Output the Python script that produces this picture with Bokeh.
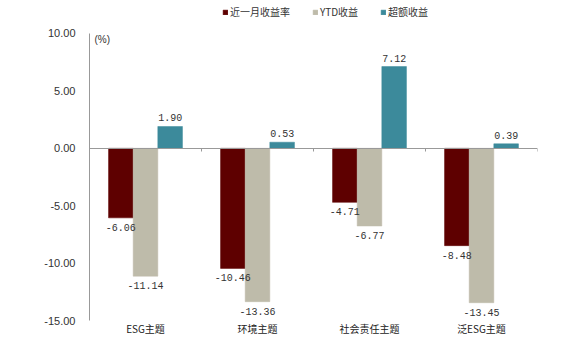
from bokeh.plotting import figure
from bokeh.models import (ColumnDataSource, Range1d, LinearAxis, FixedTicker, Legend, LegendItem,
                          NumeralTickFormatter, Label)
from bokeh.core.properties import value
from bokeh.embed import file_html
from bokeh.resources import INLINE

categories = ["ESG主题", "环境主题", "社会责任主题", "泛ESG主题"]
series_names = ["近一月收益率", "YTD收益", "超额收益"]
month_ret = [-6.06, -10.46, -4.71, -8.48]
ytd_ret = [-11.14, -13.36, -6.77, -13.45]
excess_ret = [1.90, 0.53, 7.12, 0.39]
colors = ["#5E0000", "#BEBBAA", "#3C8A9B"]
y_ticks = [10, 5, 0, -5, -10, -15]

p = figure(width=578, height=351, output_backend="svg", toolbar_location=None,
           x_range=Range1d(0, 4), y_range=Range1d(-15, 12.7),
           min_border_left=89, min_border_right=41, min_border_top=2, min_border_bottom=31,
           x_axis_type=None)
p.outline_line_color = None
p.xgrid.grid_line_color = None
p.ygrid.grid_line_color = None
p.background_fill_color = "white"
p.border_fill_color = "white"

bar_w = 0.22
offsets = [-bar_w, 0.0, bar_w]
all_vals = [month_ret, ytd_ret, excess_ret]
legend_items = []
label_sources = []
for k, (vals, col, name) in enumerate(zip(all_vals, colors, series_names)):
    xs = [i + 0.5 + offsets[k] for i in range(len(categories))]
    src = ColumnDataSource(dict(x=xs, top=vals, bottom=[0] * len(vals)))
    r = p.vbar(x="x", top="top", bottom="bottom", width=bar_w, fill_color=col,
               line_color=col, line_width=0.5, source=src)
    legend_items.append(LegendItem(label=name, renderers=[r]))
    label_sources.append((xs, vals))

for xs, vals in label_sources:
    neg = ColumnDataSource(dict(x=[x for x, v in zip(xs, vals) if v < 0],
                                y=[v for v in vals if v < 0],
                                t=["%.2f" % v for v in vals if v < 0]))
    pos = ColumnDataSource(dict(x=[x for x, v in zip(xs, vals) if v >= 0],
                                y=[v for v in vals if v >= 0],
                                t=["%.2f" % v for v in vals if v >= 0]))
    p.text(x="x", y="y", text="t", source=neg, text_align="center", text_baseline="top",
           y_offset=6, text_font=value("Liberation Mono"), text_font_size="10px",
           text_color="#333333")
    p.text(x="x", y="y", text="t", source=pos, text_align="center", text_baseline="bottom",
           y_offset=-5, text_font=value("Liberation Mono"), text_font_size="10px",
           text_color="#333333")

# y axis
p.yaxis.ticker = FixedTicker(ticks=y_ticks)
p.yaxis.bounds = (-15, 10)
p.yaxis.formatter = NumeralTickFormatter(format="0.00")
p.yaxis.axis_line_color = "#999999"
p.yaxis.major_tick_line_color = None
p.yaxis.minor_tick_line_color = None
p.yaxis.major_label_text_font = "Liberation Sans"
p.yaxis.major_label_text_font_size = "11px"
p.yaxis.major_label_text_color = "#333333"
p.yaxis.major_label_standoff = 8

# zero axis line with boundary ticks
zaxis = LinearAxis(fixed_location=0, ticker=FixedTicker(ticks=[0, 1, 2, 3, 4]))
zaxis.axis_line_color = "#999999"
zaxis.major_tick_line_color = "#999999"
zaxis.major_tick_out = 3
zaxis.major_tick_in = 0
zaxis.minor_tick_line_color = None
zaxis.major_label_text_font_size = "0px"
zaxis.major_label_text_alpha = 0
zaxis.major_label_standoff = 0
p.add_layout(zaxis, "below")

# category axis at bottom
caxis = LinearAxis(ticker=FixedTicker(ticks=[i + 0.5 for i in range(len(categories))]),
                   major_label_overrides={i + 0.5: c for i, c in enumerate(categories)})
caxis.axis_line_color = None
caxis.major_tick_line_color = None
caxis.major_tick_out = 0
caxis.minor_tick_line_color = None
caxis.major_label_text_font = "Noto Sans CJK SC"
caxis.major_label_text_font_size = "10px"
caxis.major_label_text_color = "#222222"
caxis.major_label_standoff = 0
p.add_layout(caxis, "below")

p.add_layout(Label(x=0, y=10, text="(%)", x_offset=5, y_offset=-6, text_baseline="middle",
                   text_font="Liberation Sans", text_font_size="10px", text_color="#333333"))

legend = Legend(items=legend_items, orientation="horizontal", location=(133, 301),
                label_text_font="Noto Sans CJK SC", label_text_font_size="10px",
                label_text_color="#333333", glyph_width=6, glyph_height=6,
                label_standoff=2, spacing=22, padding=0, margin=0,
                border_line_color=None, background_fill_alpha=0)
p.add_layout(legend, "center")

open("out.html", "w").write(file_html(p, INLINE))
